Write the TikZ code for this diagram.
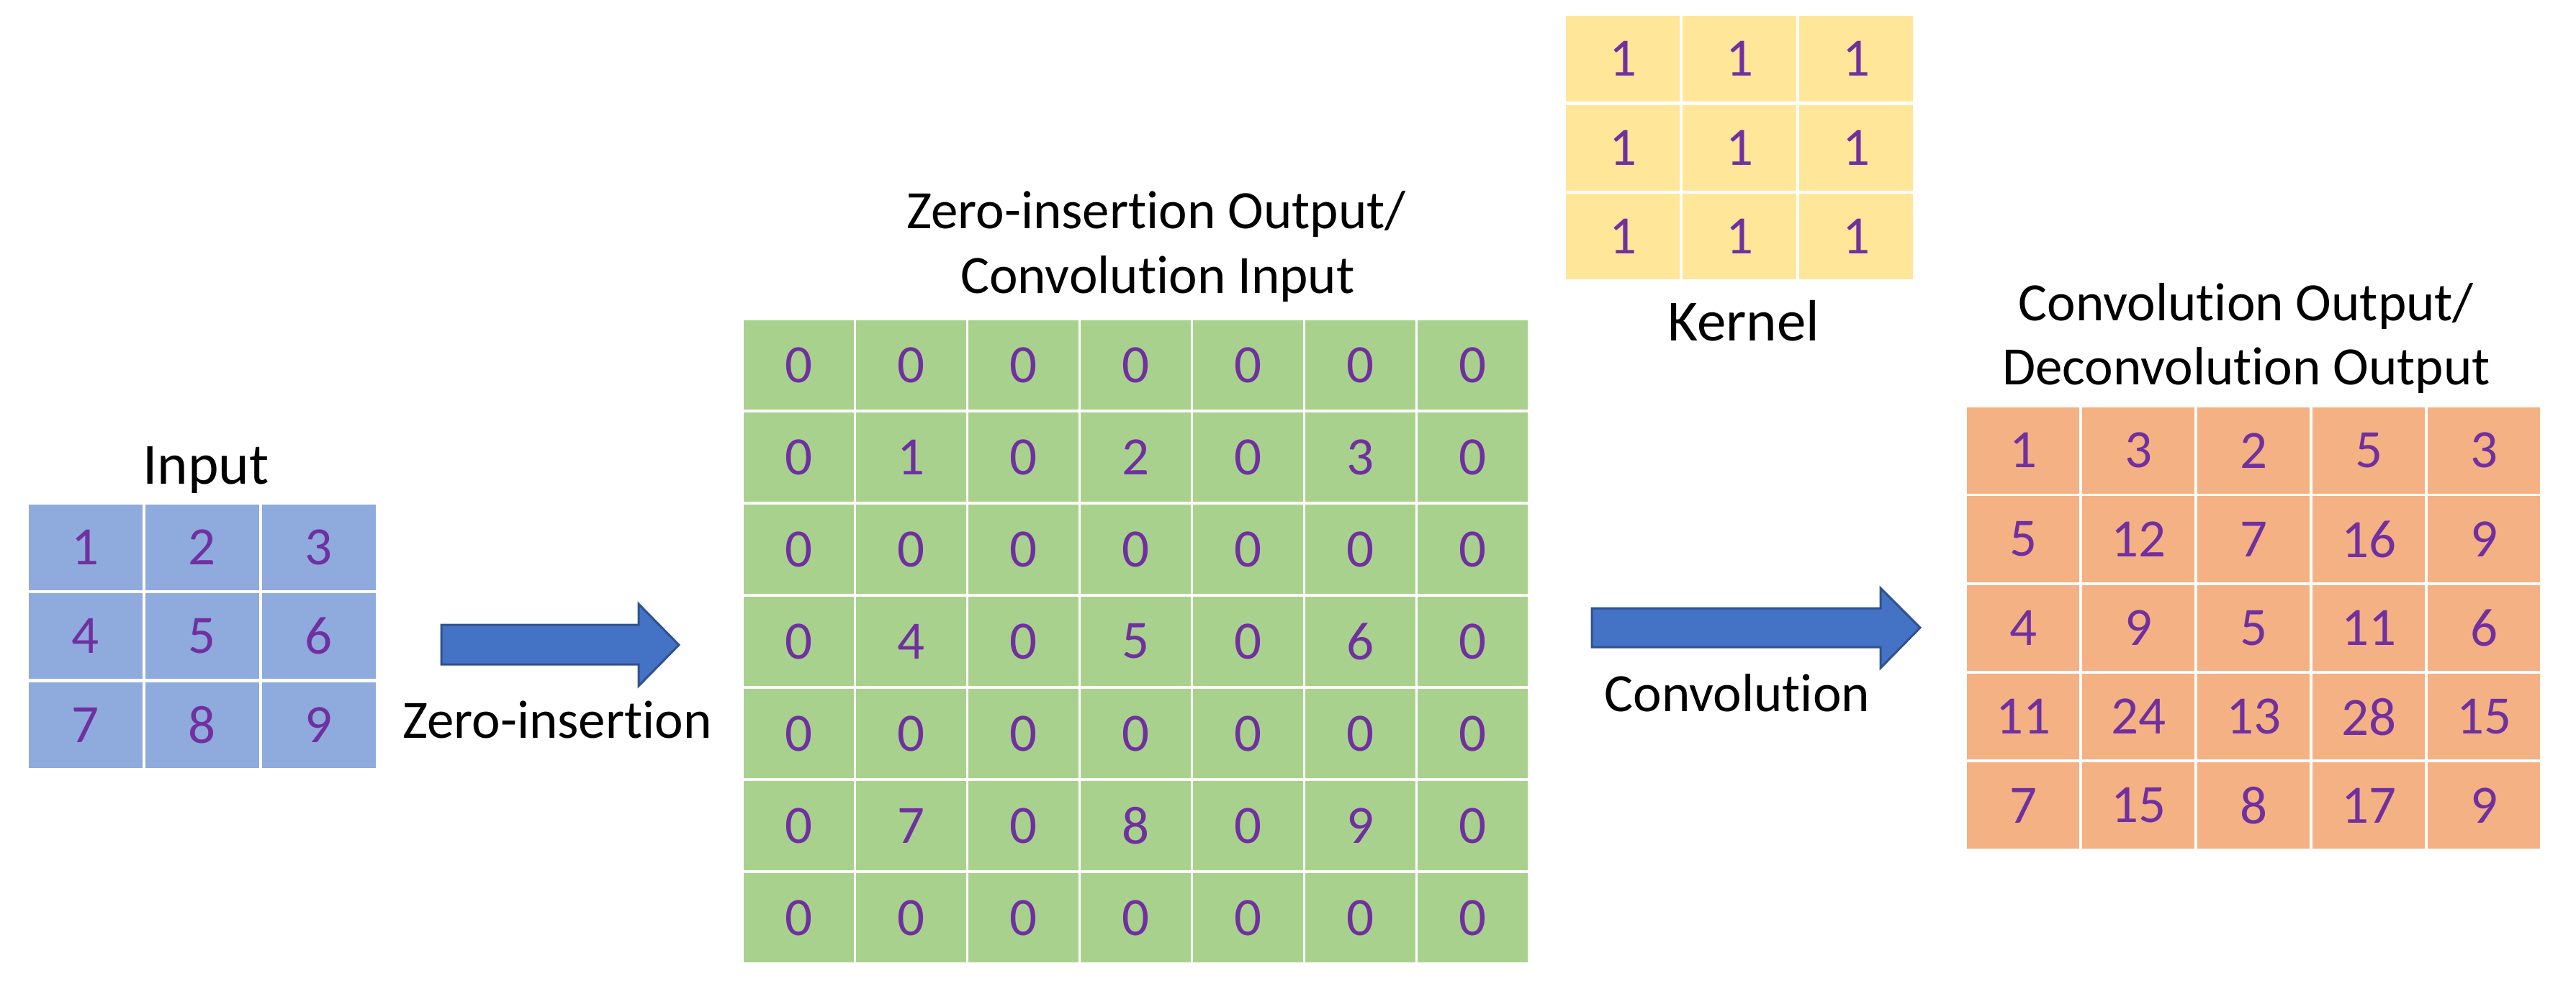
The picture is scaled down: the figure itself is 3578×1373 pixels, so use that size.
\documentclass[tikz,border=0pt]{standalone}
\usepackage{fontspec}
\setmainfont[Ligatures=NoCommon]{Carlito}
\definecolor{inblue}{HTML}{8FAADC}
\definecolor{zgreen}{HTML}{A9D18E}
\definecolor{kyellow}{HTML}{FFE699}
\definecolor{oorange}{HTML}{F4B183}
\definecolor{numpurple}{HTML}{7030A0}
\definecolor{arrowfill}{HTML}{4472C4}
\definecolor{arrowline}{HTML}{2F528F}
\begin{document}
\begin{tikzpicture}[x=1pt,y=-1pt,
  numcell/.style={inner sep=0pt, text=numpurple, font=\fontsize{75}{80}\selectfont},
  smallcell/.style={numcell, minimum width=158pt, minimum height=119pt},
  incell/.style={smallcell, fill=inblue},
  kcell/.style={smallcell, fill=kyellow},
  zcell/.style={numcell, fill=zgreen, minimum width=152.5pt, minimum height=124pt},
  ocell/.style={numcell, fill=oorange, minimum width=156pt, minimum height=119.5pt},
  lbl/.style={inner sep=0pt, anchor=base, text=black, font=\fontsize{75}{90}\selectfont},
  biglbl/.style={inner sep=0pt, anchor=base, text=black, font=\fontsize{81}{90}\selectfont},
  blockarrow/.style={fill=arrowfill, draw=arrowline, line width=3pt, line join=miter}
]
\useasboundingbox (0,0) rectangle (3578,1373);

% Input grid
\foreach \row [count=\r from 0] in {{1,2,3},{4,5,6},{7,8,9}} {
  \foreach \v [count=\c from 0] in \row {
    \node[incell] (in-\r-\c) at ({40+79+162*\c},{701+59.5+123.4*\r}) {\v};
  }
}
\node[biglbl] (inlabel) at (286,672) {Input};

% Zero-insertion grid
\foreach \row [count=\r from 0] in {{0,0,0,0,0,0,0},{0,1,0,2,0,3,0},{0,0,0,0,0,0,0},{0,4,0,5,0,6,0},{0,0,0,0,0,0,0},{0,7,0,8,0,9,0},{0,0,0,0,0,0,0}} {
  \foreach \v [count=\c from 0] in \row {
    \node[zcell] (z-\r-\c) at ({1033+76.25+156*\c},{445+62+128*\r}) {\v};
  }
}
\node[lbl] (ztitle1) at (1606,317) {Zero-insertion Output/};
\node[lbl] (ztitle2) at (1608,407) {Convolution Input};

% Kernel grid
\foreach \row [count=\r from 0] in {{1,1,1},{1,1,1},{1,1,1}} {
  \foreach \v [count=\c from 0] in \row {
    \node[kcell] (k-\r-\c) at ({2175+79+162*\c},{22+59.5+123.5*\r}) {\v};
  }
}
\node[biglbl] (klabel) at (2422,473) {Kernel};

% Output grid
\foreach \row [count=\r from 0] in {{1,3,2,5,3},{5,12,7,16,9},{4,9,5,11,6},{11,24,13,28,15},{7,15,8,17,9}} {
  \foreach \v [count=\c from 0] in \row {
    \node[ocell] (o-\r-\c) at ({2732+78+160*\c},{566+59.75+123.3*\r}) {\v};
  }
}
\node[lbl] (otitle1) at (3120,445) {Convolution Output/};
\node[lbl] (otitle2) at (3120,534) {Deconvolution Output};

% Zero-insertion arrow
\draw[blockarrow] (613,868) -- (887,868) -- (887,839) -- (943,896) -- (887,953) -- (887,923) -- (613,923) -- cycle;
\node[lbl] (zlabel) at (774,1025) {Zero-insertion};

% Convolution arrow
\draw[blockarrow] (2211,845) -- (2612,845) -- (2612,817) -- (2667,872) -- (2612,928) -- (2612,899) -- (2211,899) -- cycle;
\node[lbl] (clabel) at (2413,988) {Convolution};
\end{tikzpicture}
\end{document}
